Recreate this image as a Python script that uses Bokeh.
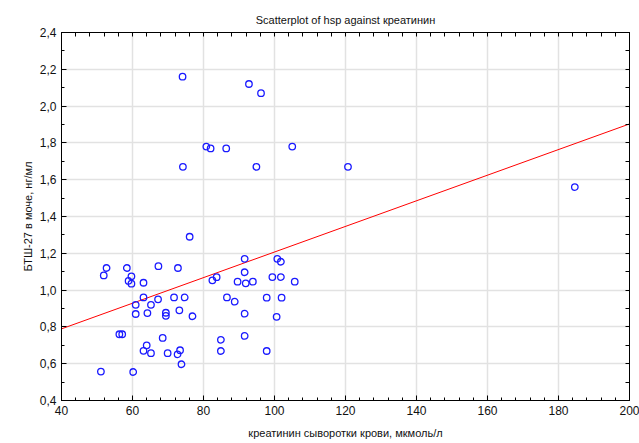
from bokeh.plotting import figure
from bokeh.models import FixedTicker, LinearAxis, Range1d, ColumnDataSource
from bokeh.embed import file_html
from bokeh.resources import INLINE

title_text = "Scatterplot of hsp against креатинин"
x_label = "креатинин сыворотки крови, мкмоль/л"
y_label = "БТШ-27 в моче, нг/мл"

kreatinin = [74.1, 92.8, 96.2, 80.8, 82.0, 86.4, 105.0, 74.2, 94.9, 120.7, 184.6, 76.1,
             52.7, 51.9, 58.4, 59.7, 58.9, 59.7, 67.3, 63.1, 63.1, 60.9, 65.2, 67.2,
             60.9, 64.2, 69.4, 69.4, 56.3, 57.1, 68.5, 64.0, 63.1, 65.2, 69.9, 51.1,
             60.2, 72.8, 82.5, 83.7, 89.6, 71.7, 74.7, 73.2, 76.9, 86.6, 88.8, 73.4,
             72.7, 73.8, 84.9, 84.9, 91.6, 100.8, 101.8, 91.6, 91.9, 93.9, 99.4, 101.8,
             105.7, 97.8, 102.0, 91.6, 100.6, 91.6, 97.8]
hsp = [2.16, 2.12, 2.07, 1.78, 1.77, 1.77, 1.78, 1.67, 1.67, 1.67, 1.56, 1.29,
       1.12, 1.08, 1.12, 1.075, 1.05, 1.035, 1.13, 1.04, 0.96, 0.92, 0.92, 0.95,
       0.87, 0.875, 0.877, 0.86, 0.76, 0.76, 0.74, 0.70, 0.67, 0.657, 0.657, 0.557,
       0.555, 1.12, 1.053, 1.07, 1.046, 0.96, 0.96, 0.89, 0.858, 0.96, 0.937, 0.673,
       0.651, 0.597, 0.73, 0.669, 1.17, 1.17, 1.154, 1.097, 1.037, 1.046, 1.071, 1.071,
       1.046, 0.959, 0.959, 0.872, 0.855, 0.751, 0.669]

fit_intercept = 0.511
fit_slope = 0.00696

x_ticks = [40, 60, 80, 100, 120, 140, 160, 180, 200]
y_ticks = [0.4, 0.6, 0.8, 1.0, 1.2, 1.4, 1.6, 1.8, 2.0, 2.2, 2.4]
y_tick_labels = ["0,4", "0,6", "0,8", "1,0", "1,2", "1,4", "1,6", "1,8", "2,0", "2,2", "2,4"]

FONT = "Liberation Sans"

p = figure(width=639, height=443, output_backend="svg", toolbar_location=None,
           x_range=Range1d(40, 200), y_range=Range1d(0.4, 2.4),
           min_border_left=61, min_border_right=10, min_border_top=32, min_border_bottom=43,
           title=title_text)
p.title.align = "center"
p.title.text_font = FONT
p.title.text_font_size = "11px"
p.title.text_font_style = "normal"
p.title.text_color = "#111111"
p.title.standoff = 14

p.outline_line_color = "black"
p.background_fill_color = "white"
p.border_fill_color = "white"

def style_axis(ax, ticks, minor):
    ax.ticker = FixedTicker(ticks=ticks, minor_ticks=minor)
    ax.axis_line_color = "black"
    ax.major_tick_in = 5
    ax.major_tick_out = 0
    ax.minor_tick_in = 3
    ax.minor_tick_out = 0
    ax.major_tick_line_color = "black"
    ax.minor_tick_line_color = "black"
    ax.major_label_text_font = FONT
    ax.major_label_text_font_size = "12px"
    ax.major_label_text_color = "#111111"
    ax.axis_label_text_font = FONT
    ax.axis_label_text_font_size = "11px"
    ax.axis_label_text_font_style = "normal"
    ax.axis_label_text_color = "#111111"

x_minor = [v for v in range(40, 201, 4)]
y_minor = [round(0.4 + 0.1 * i, 2) for i in range(21)]

xa = p.xaxis[0]
style_axis(xa, x_ticks, x_minor)
xa.axis_label = x_label
xa.axis_label_standoff = 9
xa.major_label_standoff = 5

ya = p.yaxis[0]
style_axis(ya, y_ticks, y_minor)
ya.major_label_overrides = {t: l for t, l in zip(y_ticks, y_tick_labels)}
ya.axis_label = y_label
ya.axis_label_standoff = 3
ya.major_label_standoff = 5

# top and right frame ticks: only (unlabelled) minor ticks
top = LinearAxis()
style_axis(top, [], x_minor)
top.minor_tick_in = 4
p.add_layout(top, "above")
right = LinearAxis()
style_axis(right, [], y_minor)
right.minor_tick_in = 4
p.add_layout(right, "right")

p.xgrid.ticker = FixedTicker(ticks=x_ticks)
p.ygrid.ticker = FixedTicker(ticks=y_ticks)
p.xgrid.grid_line_color = "#e2e2e2"
p.ygrid.grid_line_color = "#e2e2e2"
p.xgrid.grid_line_width = 1.5
p.ygrid.grid_line_width = 1.5

fit_x = [40, 200]
fit_y = [fit_intercept + fit_slope * v for v in fit_x]
p.line(fit_x, fit_y, line_color="red", line_width=1)

src = ColumnDataSource(dict(x=kreatinin, y=hsp))
p.scatter("x", "y", source=src, marker="circle", size=6.5, fill_color=None,
          line_color="#1a1aff", line_width=1.3)

open("out.html", "w").write(file_html(p, INLINE))
